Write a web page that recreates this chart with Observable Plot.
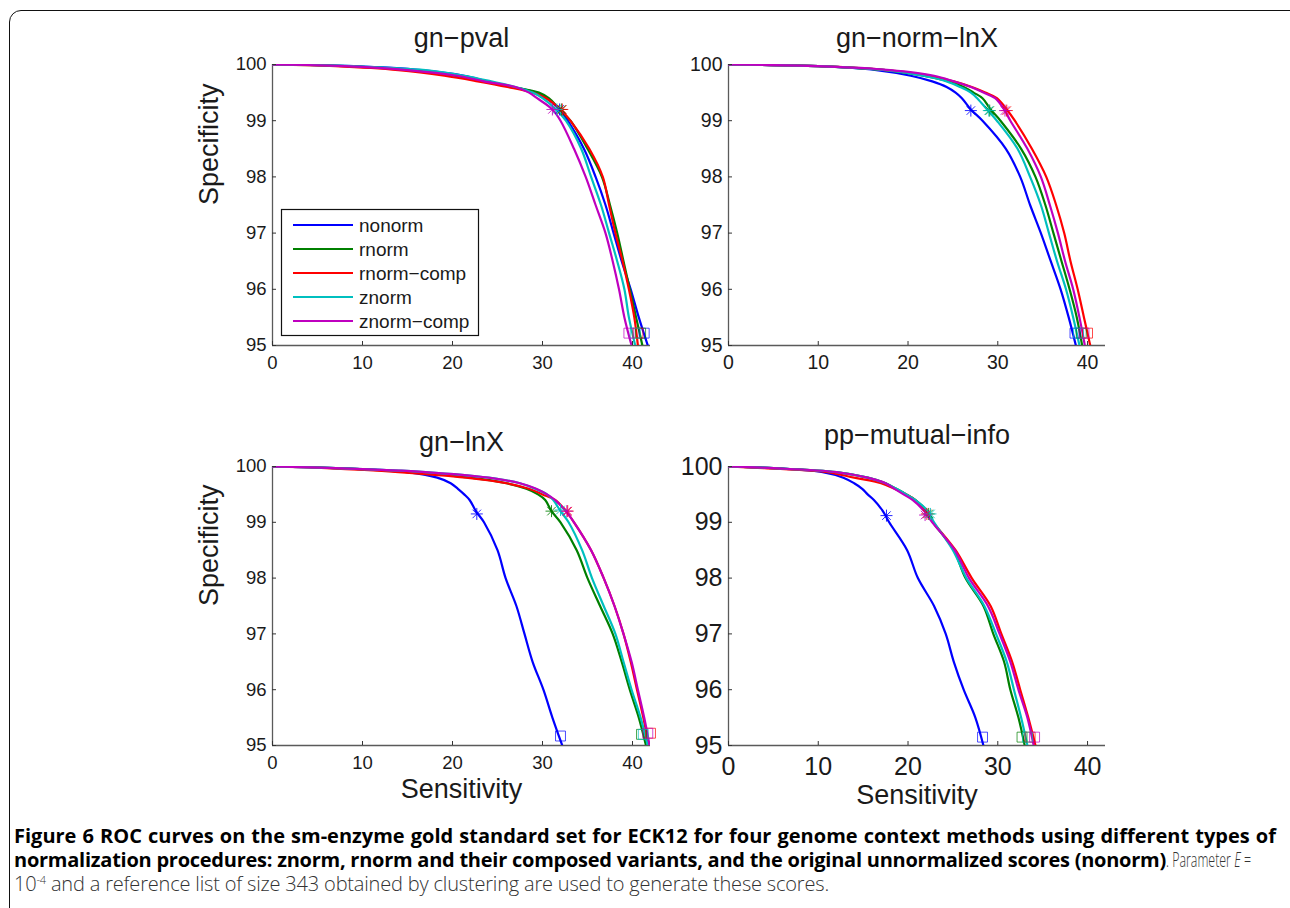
<!DOCTYPE html>
<html>
<head>
<meta charset="utf-8">
<script src="https://cdn.jsdelivr.net/npm/d3@7"></script>
<script src="https://cdn.jsdelivr.net/npm/@observablehq/plot@0.6"></script>
<style>
  html, body { margin: 0; padding: 0; background: #fff; width: 1290px; height: 908px; overflow: hidden; }
  #root { position: relative; width: 1290px; height: 908px; overflow: hidden; }
  .frame { position: absolute; left: 9px; top: 10px; width: 1300px; height: 960px; border: 1px solid #111; border-radius: 12px; box-sizing: border-box; }
  .panel { position: absolute; }
  .panel svg { overflow: visible; }
  .caption { position: absolute; left: 14px; font-family: "Open Sans", sans-serif; font-size: 20px; line-height: 24px; white-space: nowrap; color: #000; }
  .caption b { font-weight: 700; }
  .caption .lt { font-weight: 300; color: #333; }
  .caption .sq { display: inline-block; transform-origin: 0 50%; }
</style>
</head>
<body>
<div id="root">
  <div class="frame"></div>
  <div class="panel" id="p1" style="left:190px; top:20px;"></div>
  <div class="panel" id="p2" style="left:660px; top:20px;"></div>
  <div class="panel" id="p3" style="left:190px; top:400px;"></div>
  <div class="panel" id="p4" style="left:660px; top:400px;"></div>
  <div class="panel" id="legend" style="left:281px; top:209px;"></div>
  <div class="caption" id="cap1" style="top:824px;"><b>Figure 6 ROC curves on the sm-enzyme gold standard set for ECK12 for four genome context methods using different types of</b></div>
  <div class="caption" id="cap2" style="top:848px;"><b id="cap2b">normalization procedures: znorm, rnorm and their composed variants, and the original unnormalized scores (nonorm)</b><span class="lt sq">. Parameter <i>E</i> =</span></div>
  <div class="caption" id="cap3" style="top:872px;"><span class="lt">10<sup style="font-size:11px; vertical-align: 7px; line-height:0;">-4</sup> and a reference list of size 343 obtained by clustering are used to generate these scores.</span></div>
</div>
<script>
// ---------- data ----------
const seriesNames = ["nonorm", "rnorm", "rnorm\u2212comp", "znorm", "znorm\u2212comp"];
const seriesColors = ["#0000ff", "#008000", "#ff0000", "#00bfbf", "#bf00bf"];
const panelTitles = ["gn\u2212pval", "gn\u2212norm\u2212lnX", "gn\u2212lnX", "pp\u2212mutual\u2212info"];
const xTicks = [0, 10, 20, 30, 40];
const yTicks = [95, 96, 97, 98, 99, 100];
const xLabel = "Sensitivity";
const yLabel = "Specificity";

// specificity levels at which sensitivity was read for every curve
const specLevels = [100, 99.97, 99.9, 99.8, 99.7, 99.6, 99.5, 99.4, 99.2, 99.0, 98.5, 98.0, 97.5, 97.0, 96.5, 96.0, 95.5, 95.0];

// rows: nonorm, rnorm, rnorm-comp, znorm, znorm-comp
const gnPvalSens = [
  [0, 9, 16.5, 21.3, 23.9, 26.7, 29.3, 30.4, 31.9, 32.8, 34.6, 35.9, 37.0, 37.9, 38.8, 39.8, 40.7, 41.7],
  [0, 8, 15.5, 20.2, 23.5, 26.7, 29.6, 30.7, 31.9, 33.1, 35.0, 36.6, 37.5, 38.3, 39.0, 39.7, 40.4, 41.1],
  [0, 7, 14.0, 19.1, 22.8, 26.1, 28.9, 30.4, 32.0, 33.1, 35.2, 36.7, 37.4, 38.1, 38.9, 39.6, 40.2, 40.6],
  [0, 9, 17.0, 21.3, 24.3, 27.0, 28.9, 30.0, 31.5, 32.6, 34.3, 35.4, 36.5, 37.4, 38.3, 39.1, 39.6, 40.3],
  [0, 8, 15.0, 20.5, 23.5, 27.0, 28.5, 29.4, 31.1, 32.0, 33.5, 34.8, 35.9, 37.0, 37.8, 38.5, 39.1, 39.9]
];
const gnNormLnXSens = [
  [0, 10, 16.5, 20.3, 22.7, 24.3, 25.3, 26.0, 27.0, 28.3, 30.9, 32.5, 33.6, 34.8, 35.9, 37.0, 37.9, 38.7],
  [0, 10, 17.5, 21.7, 24.5, 26.2, 27.3, 28.3, 29.2, 30.3, 32.6, 34.2, 35.3, 36.2, 37.1, 38.0, 38.8, 39.4],
  [0, 10, 17.5, 22.5, 25.1, 27.1, 28.6, 29.9, 31.0, 31.9, 33.8, 35.4, 36.5, 37.4, 38.1, 38.9, 39.6, 40.3],
  [0, 10, 17.5, 21.7, 24.3, 25.8, 27.0, 27.7, 28.8, 29.9, 32.2, 33.6, 34.8, 35.7, 36.6, 37.6, 38.4, 39.1],
  [0, 10, 18.0, 22.9, 25.1, 27.0, 28.4, 29.7, 30.7, 31.4, 33.3, 34.8, 35.8, 36.7, 37.5, 38.4, 39.1, 39.7]
];
const gnLnXSens = [
  [0, 7, 15.0, 18.3, 19.8, 20.6, 21.3, 21.9, 22.6, 23.5, 25.0, 25.9, 27.1, 28.0, 28.9, 30.1, 31.1, 32.2],
  [0, 7, 15.0, 22.0, 26.0, 28.2, 29.5, 30.3, 31.0, 32.0, 33.8, 35.0, 36.4, 37.8, 38.8, 39.7, 40.7, 41.5],
  [0, 6, 14.0, 21.5, 26.0, 28.5, 30.0, 31.4, 32.6, 33.5, 35.4, 36.8, 38.0, 39.0, 39.8, 40.5, 41.2, 41.8],
  [0, 7, 17.0, 24.0, 27.5, 29.2, 30.5, 31.2, 32.0, 32.9, 34.4, 35.5, 36.8, 38.1, 39.0, 39.9, 40.9, 41.7],
  [0, 7, 17.0, 24.0, 27.5, 29.3, 30.5, 31.4, 32.6, 33.5, 35.4, 36.8, 38.0, 39.0, 39.9, 40.6, 41.3, 41.9]
];
const ppMutualInfoSens = [
  [0, 5, 10.5, 12.8, 14.0, 14.9, 15.5, 16.2, 17.2, 17.9, 19.9, 21.1, 22.9, 24.2, 25.1, 26.2, 27.5, 28.4],
  [0, 5, 12.0, 15.5, 17.5, 18.7, 19.8, 20.8, 22.1, 22.8, 25.1, 26.4, 28.4, 29.5, 30.7, 31.4, 32.3, 33.0],
  [0, 4, 11.0, 14.0, 17.0, 18.5, 19.8, 20.8, 21.9, 22.8, 25.3, 27.1, 29.2, 30.4, 31.6, 32.5, 33.4, 34.2],
  [0, 5, 12.0, 15.5, 17.5, 18.7, 19.8, 20.8, 22.2, 22.9, 25.0, 26.5, 28.5, 29.8, 31.0, 31.8, 32.6, 33.3],
  [0, 5, 12.0, 15.5, 17.5, 18.5, 19.5, 20.5, 21.8, 22.7, 25.2, 26.8, 28.9, 30.2, 31.4, 32.3, 33.3, 34.0]
];

// operating-point markers (asterisk) and end markers (square), per series
const gnPvalStarSens = [31.9, 32.1, 32.2, 31.6, 31.1];
const gnPvalStarSpec = [99.2, 99.2, 99.2, 99.2, 99.2];
const gnPvalBoxSens = [41.3, 40.9, 40.6, 40.3, 39.6];
const gnPvalBoxSpec = [95.22, 95.22, 95.22, 95.22, 95.22];

const gnNormLnXStarSens = [27.0, 29.1, 31.0, 29.0, 30.8];
const gnNormLnXStarSpec = [99.18, 99.18, 99.18, 99.18, 99.18];
const gnNormLnXBoxSens = [38.6, 39.3, 40.0, 39.0, 39.6];
const gnNormLnXBoxSpec = [95.22, 95.22, 95.22, 95.22, 95.22];

const gnLnXStarSens = [22.7, 31.0, 32.8, 32.0, 32.7];
const gnLnXStarSpec = [99.15, 99.2, 99.2, 99.22, 99.2];
const gnLnXBoxSens = [32.0, 41.0, 42.0, 41.2, 41.7];
const gnLnXBoxSpec = [95.17, 95.2, 95.22, 95.2, 95.22];

const ppMutualInfoStarSens = [17.6, 22.3, 22.1, 22.5, 21.9];
const ppMutualInfoStarSpec = [99.12, 99.15, 99.15, 99.15, 99.13];
const ppMutualInfoBoxSens = [28.3, 32.7, 33.6, 33.3, 34.1];
const ppMutualInfoBoxSpec = [95.15, 95.15, 95.15, 95.15, 95.15];

// ---------- drawing ----------
const FONT = "'Liberation Sans', Arial, Helvetica, sans-serif";
const TEXT = "#1a1a1a";

const asterisk = {
  draw(ctx, size) {
    const r = Math.sqrt(size / Math.PI);
    const d = r * Math.SQRT1_2;
    ctx.moveTo(-r, 0); ctx.lineTo(r, 0);
    ctx.moveTo(0, -r); ctx.lineTo(0, r);
    ctx.moveTo(-d, -d); ctx.lineTo(d, d);
    ctx.moveTo(-d, d); ctx.lineTo(d, -d);
  }
};

function toRows(sens) {
  const rows = [];
  sens.forEach((arr, i) => arr.forEach((s, j) => rows.push({series: seriesNames[i], sens: s, spec: specLevels[j]})));
  return rows;
}
function toPoints(xs, ys) {
  return xs.map((s, i) => ({series: seriesNames[i], sens: s, spec: ys[i]}));
}

function panel(cfg) {
  const rows = toRows(cfg.sens);
  const stars = toPoints(cfg.starSens, cfg.starSpec);
  const boxes = toPoints(cfg.boxSens, cfg.boxSpec);
  const marks = [
    Plot.ruleY([95], {stroke: "#5a5a5a", strokeWidth: 1.3}),
    Plot.ruleX([0], {stroke: "#5a5a5a", strokeWidth: 1.3}),
    Plot.line(rows, {x: "sens", y: "spec", z: "series", stroke: "series", strokeWidth: 2.2, curve: "catmull-rom", clip: true}),
    Plot.dot(stars, {x: "sens", y: "spec", stroke: "series", fill: "none", symbol: asterisk, r: 6, strokeWidth: 1, strokeOpacity: 0.85}),
    Plot.dot(boxes, {x: "sens", y: "spec", stroke: "series", fill: "none", symbol: "square", r: 5.6, strokeWidth: 1, strokeOpacity: 0.7}),
    Plot.axisX(xTicks, {tickSize: -4, tickPadding: cfg.xPad, fontSize: cfg.tickFont, tickFormat: d3.format("d"), label: null, color: TEXT, stroke: "#333"}),
    Plot.axisY(yTicks, {tickSize: -4, tickPadding: cfg.yPad, fontSize: cfg.tickFont, tickFormat: d3.format("d"), label: null, color: TEXT, stroke: "#333"}),
    Plot.text([cfg.title], {text: d => d, frameAnchor: "top", lineAnchor: "middle", dy: cfg.titleDy, fontSize: 27, fill: TEXT})
  ];
  if (cfg.yLab) marks.push(Plot.text([yLabel], {text: d => d, frameAnchor: "left", lineAnchor: "middle", rotate: -90, dx: -63, fontSize: 27, fill: TEXT}));
  if (cfg.xLab) marks.push(Plot.text([xLabel], {text: d => d, frameAnchor: "bottom", lineAnchor: "middle", dy: cfg.xLabDy, fontSize: 27, fill: TEXT}));
  return Plot.plot({
    width: cfg.width, height: cfg.height,
    marginLeft: cfg.ml, marginRight: cfg.mr, marginTop: cfg.mt, marginBottom: cfg.mb,
    style: {fontFamily: FONT, background: "transparent", overflow: "visible", color: TEXT},
    x: {domain: [0, 42], label: null},
    y: {domain: [95, 100], label: null},
    color: {domain: seriesNames, range: seriesColors},
    marks
  });
}

document.getElementById("p1").append(panel({
  title: panelTitles[0], sens: gnPvalSens, starSens: gnPvalStarSens, starSpec: gnPvalStarSpec, boxSens: gnPvalBoxSens, boxSpec: gnPvalBoxSpec,
  width: 480, height: 380, ml: 82, mr: 20, mt: 44, mb: 55, tickFont: 18.5, xPad: 14, yPad: 10, titleDy: -26, yLab: true
}));
document.getElementById("p2").append(panel({
  title: panelTitles[1], sens: gnNormLnXSens, starSens: gnNormLnXStarSens, starSpec: gnNormLnXStarSpec, boxSens: gnNormLnXBoxSens, boxSpec: gnNormLnXBoxSpec,
  width: 460, height: 380, ml: 68, mr: 15, mt: 44, mb: 55, tickFont: 19.5, xPad: 14, yPad: 10, titleDy: -26
}));
document.getElementById("p3").append(panel({
  title: panelTitles[2], sens: gnLnXSens, starSens: gnLnXStarSens, starSpec: gnLnXStarSpec, boxSens: gnLnXBoxSens, boxSpec: gnLnXBoxSpec,
  width: 480, height: 420, ml: 82, mr: 20, mt: 66, mb: 75, tickFont: 18.5, xPad: 14, yPad: 10, titleDy: -24, yLab: true, xLab: true, xLabDy: 44
}));
document.getElementById("p4").append(panel({
  title: panelTitles[3], sens: ppMutualInfoSens, starSens: ppMutualInfoStarSens, starSpec: ppMutualInfoStarSpec, boxSens: ppMutualInfoBoxSens, boxSpec: ppMutualInfoBoxSpec,
  width: 460, height: 420, ml: 68, mr: 15, mt: 66, mb: 75, tickFont: 25, xPad: 16, yPad: 10, titleDy: -31, xLab: true, xLabDy: 50
}));

// legend (panel 1)
(function legend() {
  const w = 198, h = 127, rowY = [16, 40, 64, 88, 112];
  const svg = d3.create("svg").attr("width", w).attr("height", h).style("overflow", "visible");
  svg.append("rect").attr("x", 0.5).attr("y", 0.5).attr("width", w - 1).attr("height", h - 1)
    .attr("fill", "white").attr("stroke", "#111").attr("stroke-width", 1.2);
  seriesNames.forEach((name, i) => {
    svg.append("line").attr("x1", 12).attr("x2", 72).attr("y1", rowY[i]).attr("y2", rowY[i])
      .attr("stroke", seriesColors[i]).attr("stroke-width", 2.2);
    svg.append("text").attr("x", 78).attr("y", rowY[i]).attr("dy", "0.35em")
      .attr("font-family", FONT).attr("font-size", 19).attr("fill", TEXT).text(name);
  });
  document.getElementById("legend").append(svg.node());
})();

// caption line fitting (to the reference's line extents)
function fitWords(id, right) {
  const el = document.getElementById(id);
  const words = el.textContent.split(" ").length - 1;
  const w = el.getBoundingClientRect().width;
  el.style.wordSpacing = ((right - 14 - w) / words) + "px";
}
function fitLetters(id, right) {
  const el = document.getElementById(id);
  const chars = el.textContent.length;
  const w = el.getBoundingClientRect().width;
  el.style.letterSpacing = ((right - 14 - w) / chars) + "px";
}
fitWords("cap1", 1276);
fitLetters("cap3", 829);
fitLetters("cap2b", 1166);
(function squeezeTail() {
  const sp = document.querySelector("#cap2 .sq");
  const r = sp.getBoundingClientRect();
  sp.style.transform = "scaleX(" + Math.min(1, (1251 - r.left) / r.width) + ")";
})();
</script>
</body>
</html>
